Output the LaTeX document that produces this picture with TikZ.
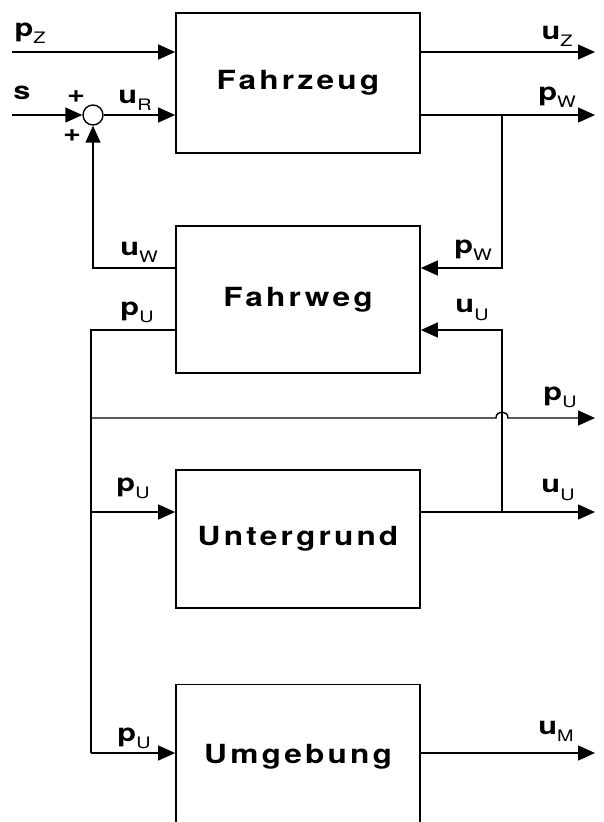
\documentclass[tikz,border=0pt]{standalone}
\usepackage{fontspec}
\setmainfont{TeX Gyre Heros}
\newfontfamily\blockfont[FakeStretch=1.2,LetterSpace=12]{TeX Gyre Heros}
\newfontfamily\lblfont[FakeStretch=1.25]{TeX Gyre Heros}
\usetikzlibrary{arrows.meta,calc}
\newcommand{\sig}[2]{#1\raisebox{-4pt}{\mdseries\fontsize{9}{10}\selectfont #2}}

\begin{document}
\begin{tikzpicture}[x=0.02cm,y=-0.02cm,
 block/.style={draw,line width=1pt,minimum width=4.88cm,
 font=\blockfont\bfseries\fontsize{15}{17}\selectfont},
 lbl/.style={font=\lblfont\bfseries\fontsize{14}{16}\selectfont,inner sep=0pt},
 sig/.style={line width=0.8pt},
 >={Triangle[length=3.4mm,width=3mm]}]
\clip (0,0) rectangle (603,822);
% blocks
\node[block,minimum height=2.8cm] (fz) at (298,83) {Fahrzeug};
\node[block,minimum height=2.94cm] (fw) at (298,299.5) {Fahrweg};
\node[block,minimum height=2.76cm] (ug) at (298,539) {Untergrund};
\node[block,minimum height=2.9cm] (um) at (298,757) {Umgebung};
\node[draw,circle,minimum size=0.4cm,inner sep=0pt,line width=0.8pt] (sum) at (93,115) {};
% end points and branch points
\coordinate (pzin) at (12,52);
\coordinate (sin) at (12,115);
\coordinate (uzout) at (595,52);
\coordinate (pwout) at (595,115);
\coordinate (pwbr) at (502,115);
\coordinate (pwfw) at (502,268);
\coordinate (uwl) at (93,268);
\coordinate (pul) at (91,330);
\coordinate (uufw) at (502,330);
\coordinate (bus1) at (91,418);
\coordinate (jmp) at (502,418);
\coordinate (puout) at (595,418);
\coordinate (bus2) at (91,512);
\coordinate (uubr) at (502,512);
\coordinate (uuout) at (595,512);
\coordinate (bus3) at (91,753);
\coordinate (umout) at (595,753);
% Fahrzeug
\draw[sig,->] (pzin) -- (pzin -| fz.west);
\draw[sig,->] (sin) -- (sum);
\draw[sig,->] (sum) -- (sum -| fz.west);
\draw[sig,->] (fz.east |- uzout) -- (uzout);
\draw[sig,->] (fz.east |- pwout) -- (pwout);
% Fahrweg
\draw[sig,->] (pwbr) -- (pwfw) -- (pwfw -| fw.east);
\draw[sig,->] (fw.west |- uwl) -- (uwl) -- (sum);
\draw[sig] (fw.west |- pul) -- (pul) -- (bus3);
\draw[sig,->] (uubr) -- (uufw) -- (uufw -| fw.east);
\draw[sig,->] (bus1) -- ($(jmp)+(-6,0)$) .. controls +(0,-8) and +(0,-8) .. ($(jmp)+(6,0)$) -- (puout);
% Untergrund, Umgebung
\draw[sig,->] (bus2) -- (bus2 -| ug.west);
\draw[sig,->] (ug.east |- uubr) -- (uuout);
\draw[sig,->] (bus3) -- (bus3 -| um.west);
\draw[sig,->] (um.east |- bus3) -- (umout);
% labels
\node[lbl] (lpz) at (30,33) {\sig{p}{Z}};
\node[lbl] (ls) at (22,93) {s};
\node[lbl] (lp1) at (76,97) {+};
\node[lbl] (lp2) at (72,136) {+};
\node[lbl] (lur) at (135,100) {\sig{u}{R}};
\node[lbl] (luz) at (557,36) {\sig{u}{Z}};
\node[lbl] (lpw) at (557,97) {\sig{p}{W}};
\node[lbl] (luw) at (139,252) {\sig{u}{W}};
\node[lbl] (lpwf) at (473,250) {\sig{p}{W}};
\node[lbl] (lpuf) at (137,312) {\sig{p}{U}};
\node[lbl] (luuf) at (472,310) {\sig{u}{U}};
\node[lbl] (lpur) at (560,397) {\sig{p}{U}};
\node[lbl] (lpug) at (133,488) {\sig{p}{U}};
\node[lbl] (luug) at (558,490) {\sig{u}{U}};
\node[lbl] (lpum) at (134,738) {\sig{p}{U}};
\node[lbl] (lum) at (556,731) {\sig{u}{M}};
\end{tikzpicture}
\end{document}
